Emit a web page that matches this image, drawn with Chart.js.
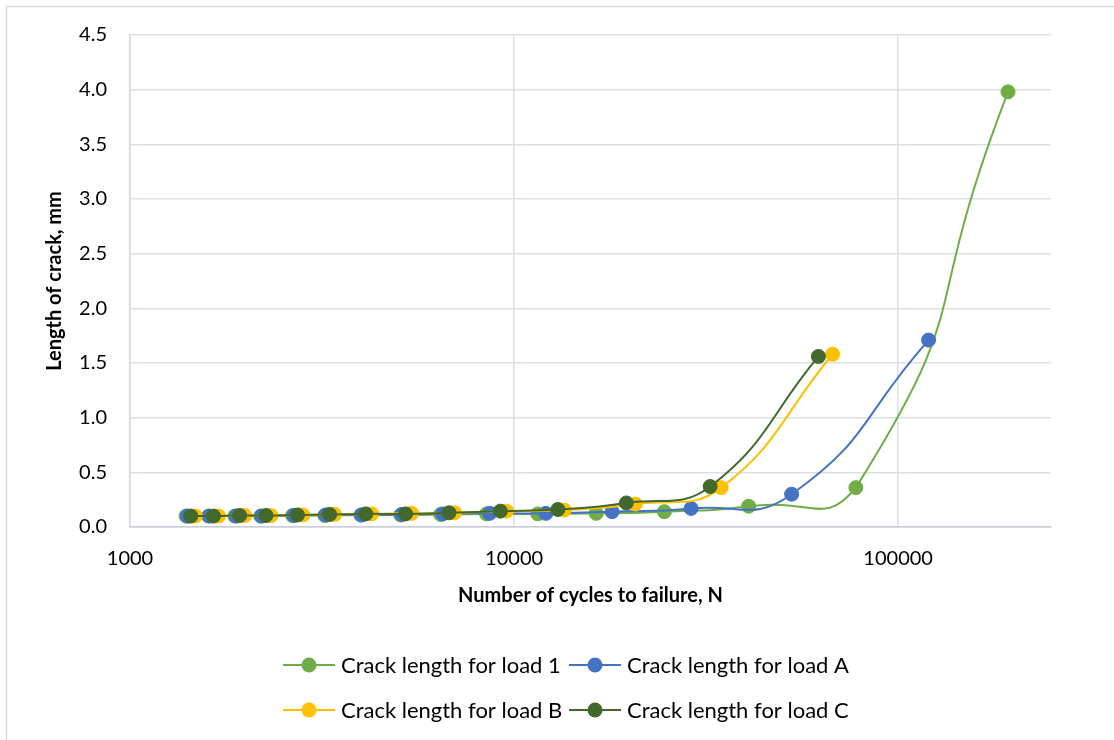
<!DOCTYPE html>
<html>
<head>
<meta charset="utf-8">
<script src="https://cdn.jsdelivr.net/npm/chart.js@4.4.1/dist/chart.umd.min.js"></script>
<style>
  html, body { margin: 0; padding: 0; background: #fff; }
  #wrap { width: 1114px; height: 740px; position: relative; }
</style>
</head>
<body>
<div id="wrap"><canvas id="myChart"></canvas></div>
<script>
// cycles (N) and crack length (mm) for each load
const cycles1 = [1400, 1600, 1875, 2190, 2650, 3215, 3990, 5070, 6440, 8480, 11530, 16360, 24620, 40800, 77600, 193200];
const crack1  = [0.10, 0.10, 0.10, 0.10, 0.105, 0.105, 0.11, 0.11, 0.115, 0.12, 0.12, 0.125, 0.14, 0.19, 0.36, 3.98];

const cyclesA = [1410, 1610, 1890, 2200, 2670, 3230, 4010, 5100, 6520, 8640, 12100, 18000, 28900, 52800, 120000];
const crackA  = [0.10, 0.10, 0.10, 0.10, 0.105, 0.11, 0.11, 0.115, 0.12, 0.125, 0.125, 0.14, 0.17, 0.30, 1.71];

const cyclesB = [1480, 1700, 1990, 2330, 2820, 3410, 4260, 5410, 7000, 9560, 13500, 20700, 34600, 67500];
const crackB  = [0.10, 0.10, 0.105, 0.105, 0.11, 0.115, 0.12, 0.125, 0.13, 0.145, 0.155, 0.21, 0.36, 1.58];

const cyclesC = [1440, 1650, 1930, 2260, 2730, 3310, 4110, 5220, 6770, 9210, 13000, 19600, 32400, 62000];
const crackC  = [0.10, 0.10, 0.105, 0.105, 0.11, 0.115, 0.12, 0.12, 0.13, 0.145, 0.16, 0.22, 0.37, 1.56];

const xTicks = [1000, 10000, 100000];

function toPoints(xs, ys) {
    let pts = [];
    for (var i = 0; i < xs.length; i++) {
        pts.push({x: xs[i], y: ys[i]});
    }
    return pts;
}

function series(label, xs, ys, color, order, tension) {
    return {
        label: label,
        data: toPoints(xs, ys),
        borderColor: color,
        backgroundColor: color,
        pointBackgroundColor: color,
        pointBorderColor: color,
        pointBorderWidth: 1,
        pointRadius: 7,
        borderWidth: 2,
        tension: tension,
        order: order
    };
}

const gridColor = '#dcdfe5';
const axisFont = {family: 'Lato', size: 20};
const titleFont = {family: 'Lato', size: 20, weight: 'bold'};

// outer chart frame
const framePlugin = {
    id: 'frame',
    beforeDraw(chart) {
        const ctx = chart.ctx;
        ctx.save();
        ctx.fillStyle = '#fff';
        ctx.fillRect(0, 0, chart.width, chart.height);
        ctx.strokeStyle = '#d9d9d9';
        ctx.lineWidth = 1.5;
        ctx.strokeRect(6.5, 6.5, chart.width + 20, chart.height + 20);
        ctx.restore();
    }
};

// two-row legend like the Excel one
const legendPlugin = {
    id: 'rowLegend',
    afterDraw(chart) {
        const ctx = chart.ctx;
        const slots = [[283, 665], [569, 665], [283, 710], [569, 710]];
        ctx.save();
        chart.data.datasets.forEach(function(ds, i) {
            const x = slots[i][0], y = slots[i][1];
            ctx.strokeStyle = ds.borderColor;
            ctx.lineWidth = 2;
            ctx.beginPath();
            ctx.moveTo(x, y);
            ctx.lineTo(x + 52, y);
            ctx.stroke();
            ctx.fillStyle = ds.backgroundColor;
            ctx.beginPath();
            ctx.arc(x + 26, y, 7.5, 0, Math.PI * 2);
            ctx.fill();
            ctx.fillStyle = '#000';
            ctx.font = '22px Lato';
            ctx.textBaseline = 'middle';
            ctx.textAlign = 'left';
            ctx.fillText(ds.label, x + 58, y + 1);
        });
        ctx.restore();
    }
};

const config = {
    type: 'line',
    data: {
        datasets: [
            series('Crack length for load 1', cycles1, crack1, '#70ad47', 4, 0.6),
            series('Crack length for load A', cyclesA, crackA, '#4472c4', 3, 0.5),
            series('Crack length for load B', cyclesB, crackB, '#ffc000', 2, 0.45),
            series('Crack length for load C', cyclesC, crackC, '#43682b', 1, 0.45)
        ]
    },
    options: {
        responsive: true,
        maintainAspectRatio: false,
        animation: false,
        layout: {padding: {left: 0, right: 63, top: 35, bottom: 113}},
        plugins: {
            legend: {display: false},
            tooltip: {enabled: false}
        },
        scales: {
            x: {
                type: 'logarithmic',
                position: 'bottom',
                min: 1000,
                max: 250000,
                afterBuildTicks: function(scale) {
                    scale.ticks = xTicks.map(function(v) { return {value: v}; });
                },
                afterFit: function(scale) { scale.height = 100; },
                ticks: {
                    autoSkip: false,
                    maxRotation: 0,
                    padding: 20,
                    color: '#000',
                    font: axisFont,
                    callback: function(v) { return String(v); }
                },
                grid: {color: gridColor, lineWidth: 1.5, drawTicks: false},
                border: {color: '#c8cdd6', width: 1.5},
                title: {
                    display: true,
                    text: 'Number of cycles to failure, N',
                    color: '#000',
                    font: titleFont,
                    padding: {top: 0, bottom: 19}
                }
            },
            y: {
                min: 0,
                max: 4.5,
                afterFit: function(scale) { scale.width = 130; },
                ticks: {
                    stepSize: 0.5,
                    padding: 23,
                    color: '#000',
                    font: axisFont,
                    callback: function(v) { return v.toFixed(1); }
                },
                grid: {color: gridColor, lineWidth: 1.5, drawTicks: false},
                border: {color: '#d3d7df', width: 1.5},
                title: {
                    display: true,
                    text: 'Length of crack, mm',
                    color: '#000',
                    font: titleFont,
                    padding: {top: 43, bottom: 0}
                }
            }
        }
    },
    plugins: [framePlugin, legendPlugin]
};

const myChart = new Chart(document.getElementById('myChart').getContext('2d'), config);
</script>
</body>
</html>
